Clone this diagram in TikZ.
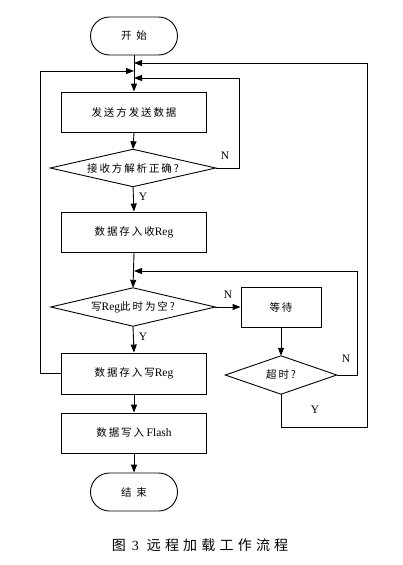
\documentclass[tikz,border=0pt]{standalone}
\usepackage{fontspec}
\setmainfont{Liberation Serif}
\newfontfamily\cjk[LetterSpace=18]{Noto Sans CJK SC}
\newfontfamily\cjkcap[LetterSpace=30]{Noto Sans CJK SC}
\usetikzlibrary{arrows.meta}
\newcommand{\zh}[1]{{\cjk #1}}
\newcommand{\la}[1]{{\fontsize{11.5}{12}\selectfont #1}}
\begin{document}
\begin{tikzpicture}[x=1pt,y=-1pt,
  every node/.style={font=\fontsize{10.5}{12}\selectfont, inner sep=0pt},
  box/.style={draw, line width=0.9pt, minimum width=145pt, minimum height=40pt},
  term/.style={draw, line width=0.9pt, minimum width=87pt, minimum height=38pt, rounded corners=19pt},
  dia/.style={minimum height=37pt},
  conn/.style={line width=0.9pt},
  arr/.style={conn, -{Triangle[length=8pt,width=6pt]}},
  lab/.style={font=\fontsize{11.5}{12}\selectfont}
]
\useasboundingbox (0,0) rectangle (403,565);
% nodes
\node[term] (start) at (134,36) {\zh{开\hspace{5pt}始}};
\node[box] (b1) at (134,112) {\zh{发送方发送数据}};
\node[dia, minimum width=165pt] (d1) at (133,168) {\zh{接收方解析正确?}};
\draw[conn] (d1.west) -- (d1.north) -- (d1.east) -- (d1.south) -- cycle;
\node[box] (b2) at (134,232) {\zh{数据存入收}\la{Reg}};
\node[dia, minimum width=164pt, minimum height=38pt] (d2) at (133,307) {\zh{写}\la{Reg}\zh{此时为空?}};
\draw[conn] (d2.west) -- (d2.north) -- (d2.east) -- (d2.south) -- cycle;
\node[box, minimum width=80pt] (wait) at (281,307) {\zh{等待}};
\node[dia, minimum width=111pt, minimum height=38pt] (d3) at (281,375) {\zh{超时?}};
\draw[conn] (d3.west) -- (d3.north) -- (d3.east) -- (d3.south) -- cycle;
\node[box, minimum height=41pt] (b3) at (134,373.5) {\zh{数据存入写}\la{Reg}};
\node[box] (b4) at (134,433) {\zh{数据写入} \la{Flash}};
\node[term] (end) at (134,492) {\zh{结\hspace{5pt}束}};
% junction points
\coordinate (j1) at (134,63);
\coordinate (j2) at (134,71);
\coordinate (j3) at (134,78);
\coordinate (j4) at (134,271);
% connectors
\draw[arr] (start.south) -- (b1.north);
\draw[arr] (b1.south) -- (d1.north);
\draw[arr] (d1.south) -- node[lab, right=5pt, pos=0.4] {Y} (b2.north);
\draw[arr] (d1.east) -- (239,168) |- (j3);
\node[lab] (n1) at (225,156) {N};
\draw[arr] (b2.south) -- (d2.north);
\draw[arr] (d2.east) -- (wait.west);
\node[lab] (n2) at (228,295) {N};
\draw[arr] (d2.south) -- node[lab, right=5pt, pos=0.4] {Y} (b3.north);
\draw[arr] (b3.west) -- (40,373.5) |- (j2);
\draw[arr] (wait.south) -- (d3.north);
\draw[arr] (d3.east) -- (357,375) |- (j4);
\node[lab] (n3) at (346,359) {N};
\draw[arr] (d3.south) -- (281,427) -| (367,63) -- (j1);
\node[lab] (y3) at (315,410) {Y};
\draw[arr] (b3.south) -- (b4.north);
\draw[arr] (b4.south) -- (end.north);
\node[font=\fontsize{14}{15}\selectfont] (cap) at (200,545) {{\cjkcap 图}\hspace{6pt}3\hspace{8pt}{\cjkcap 远程加载工作流程}};
\end{tikzpicture}
\end{document}
